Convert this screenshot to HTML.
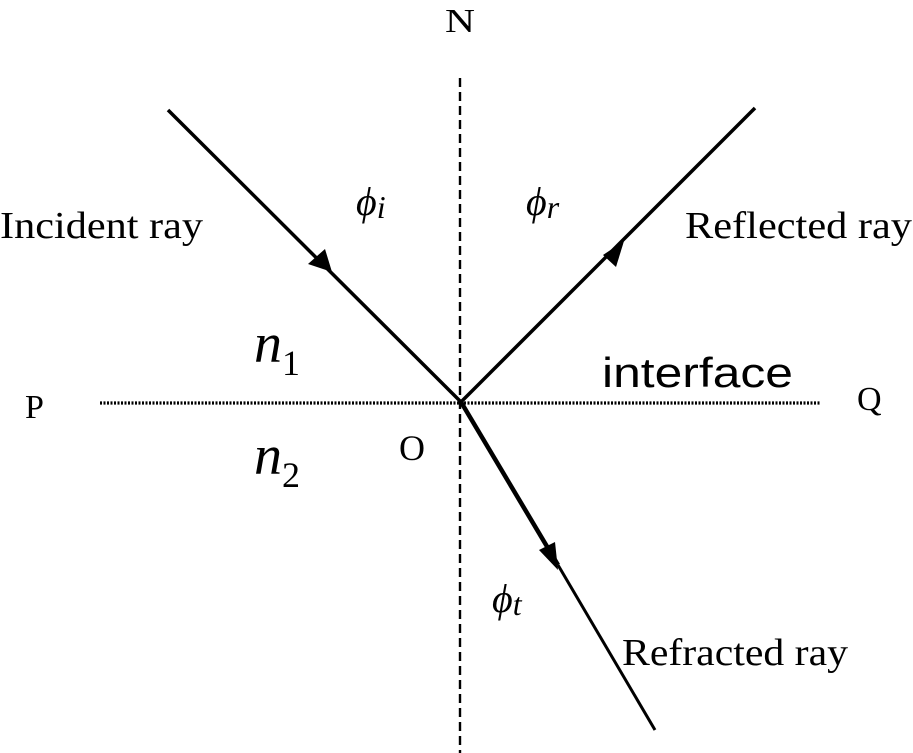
<!DOCTYPE html>
<html><head><meta charset="utf-8"><style>html,body{margin:0;padding:0;background:#fff}svg{display:block}</style></head>
<body>
<svg width="913" height="753" viewBox="0 0 913 753" xmlns="http://www.w3.org/2000/svg">
<g stroke="#000" fill="none">
<line x1="460" y1="78" x2="460" y2="753" stroke-width="2.4" stroke-dasharray="9,5"/>
<line x1="100" y1="403" x2="820" y2="403" stroke-width="3.2" stroke-dasharray="2,1.5"/>
<line x1="168" y1="110" x2="461" y2="402" stroke-width="3.5"/>
<line x1="461" y1="402" x2="755" y2="108" stroke-width="3.5"/>
<line x1="461" y1="402" x2="558" y2="565" stroke-width="4.5"/>
<line x1="558" y1="565" x2="655" y2="730" stroke-width="3"/>
</g>
<g fill="#000">
<polygon points="332,272 308,264 325,249"/>
<polygon points="624,241 603,255 616,267"/>
<polygon points="558,570 539,550 555,542"/>
</g>
<g font-family="Liberation Serif, serif" font-size="38" fill="#000">
<text x="445" y="32" font-size="34" textLength="30" lengthAdjust="spacingAndGlyphs">N</text>
<text x="0" y="238" textLength="203" lengthAdjust="spacingAndGlyphs">Incident ray</text>
<text x="685" y="238" textLength="227" lengthAdjust="spacingAndGlyphs">Reflected ray</text>
<text x="622" y="665" textLength="226" lengthAdjust="spacingAndGlyphs">Refracted ray</text>
<text x="25" y="418" font-size="34">P</text>
<text x="857" y="410" font-size="34">Q</text>
<text x="399" y="460" font-size="36">O</text>
<text x="254" y="362" font-style="italic" font-size="56">n<tspan font-style="normal" font-size="36" dy="13">1</tspan></text>
<text x="254" y="474" font-style="italic" font-size="56">n<tspan font-style="normal" font-size="36" dy="13">2</tspan></text>
<text x="356" y="215" font-style="italic" font-size="40">ϕ<tspan font-size="32" dy="3">i</tspan></text>
<text x="526" y="215" font-style="italic" font-size="40">ϕ<tspan font-size="32" dy="3">r</tspan></text>
<text x="492" y="612" font-style="italic" font-size="40">ϕ<tspan font-size="32" dy="3">t</tspan></text>
</g>
<text x="602" y="387" font-family="Liberation Sans, sans-serif" font-size="42" fill="#000" textLength="191" lengthAdjust="spacingAndGlyphs">interface</text>
</svg>
</body></html>
